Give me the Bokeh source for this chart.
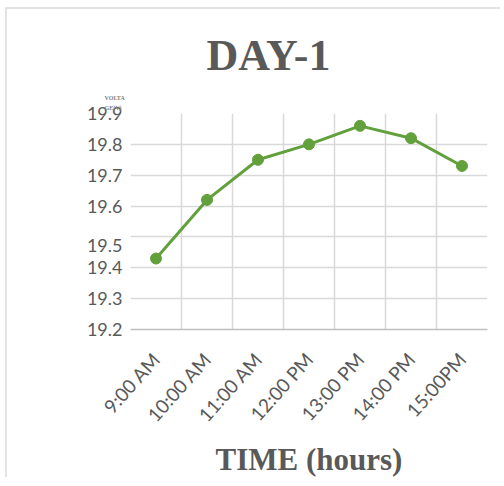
from bokeh.plotting import figure
from bokeh.models import FixedTicker, Title, ColumnDataSource
from bokeh.embed import file_html
from bokeh.resources import INLINE

# Hourly voltage readings for the first day
times = ["9:00 AM", "10:00 AM", "11:00 AM", "12:00 PM", "13:00 PM", "14:00 PM", "15:00PM"]
voltage = [19.43, 19.62, 19.75, 19.80, 19.86, 19.82, 19.73]

y_grid_values = [19.2, 19.3, 19.4, 19.5, 19.6, 19.7, 19.8, 19.9]
y_tick_labels = ["19.2", "19.3", "19.4", "19.5", "19.6", "19.7", "19.8", "19.9"]
# the "19.5" label sits a little below its gridline
y_label_positions = [19.2, 19.3, 19.4, 19.471, 19.6, 19.7, 19.8, 19.9]

GREEN = "#62a03c"
GREY_TEXT = "#595959"

xs = [i + 0.5 for i in range(len(times))]
src = ColumnDataSource(dict(x=xs, v=voltage, t=times))

p = figure(
    width=495, height=470,
    x_range=(0, len(times)), y_range=(19.2, 19.9),
    output_backend="svg", toolbar_location=None,
    min_border_left=123, min_border_right=15,
    min_border_top=104, min_border_bottom=150,
)
# light chart border on the top and left sides
p.styles = {"margin-left": "5px", "margin-top": "7px",
            "border-left": "2px solid #e3e3e3", "border-top": "2px solid #e3e3e3",
            "border-right": "none", "border-bottom": "none"}
p.outline_line_color = None
p.background_fill_color = "white"
p.border_fill_color = "white"

# chart title
p.title.text = "DAY-1"
p.title.text_font = "Liberation Serif"
p.title.text_font_style = "bold"
p.title.text_font_size = "44px"
p.title.text_color = GREY_TEXT
p.title.align = "left"
p.title.offset = 76
p.title.standoff = 26

# small y-axis caption above the tick labels
for txt, gap in [("GE(V)", 5), ("VOLTA", 0)]:
    p.add_layout(Title(text=txt, align="left", offset=-26, standoff=gap,
                       text_font="Liberation Serif", text_font_style="bold",
                       text_font_size="6px", text_color="#808080"), "above")

# x axis: category labels rotated, gridlines at category boundaries
p.xaxis.ticker = FixedTicker(ticks=xs)
p.xaxis.major_label_overrides = {x: t for x, t in zip(xs, times)}
p.xaxis.major_label_orientation = 0.84
p.xaxis.major_label_text_font = "Lato"
p.xaxis.major_label_text_font_size = "19px"
p.xaxis.major_label_text_color = GREY_TEXT
p.xaxis.major_label_standoff = 20
p.xaxis.major_tick_line_color = None
p.xaxis.minor_tick_line_color = None
p.xaxis.axis_line_color = "#bfbfbf"
p.xaxis.axis_line_width = 1.5
p.xaxis.axis_label = "TIME (hours)"
p.xaxis.axis_label_text_font = "Liberation Serif"
p.xaxis.axis_label_text_font_style = "bold"
p.xaxis.axis_label_text_font_size = "31px"
p.xaxis.axis_label_text_color = GREY_TEXT
p.xaxis.axis_label_standoff = 5
p.xgrid.ticker = FixedTicker(ticks=list(range(len(times) + 1)))
p.xgrid.grid_line_color = "#d9d9d9"
p.xgrid.grid_line_width = 1.5

# y axis
p.yaxis.ticker = FixedTicker(ticks=y_label_positions)
p.yaxis.major_label_overrides = {pos: lab for pos, lab in zip(y_label_positions, y_tick_labels)}
p.yaxis.major_label_text_font = "Lato"
p.yaxis.major_label_text_font_size = "18px"
p.yaxis.major_label_text_color = GREY_TEXT
p.yaxis.major_label_standoff = 2
p.yaxis.major_tick_line_color = None
p.yaxis.minor_tick_line_color = None
p.yaxis.axis_line_color = None
p.ygrid.ticker = FixedTicker(ticks=y_grid_values)
p.ygrid.grid_line_color = "#d9d9d9"
p.ygrid.grid_line_width = 1.5

p.line("x", "v", source=src, line_color=GREEN, line_width=3)
p.scatter("x", "v", source=src, size=11, fill_color=GREEN, line_color=GREEN)

open("out.html", "w").write(file_html(p, INLINE))
